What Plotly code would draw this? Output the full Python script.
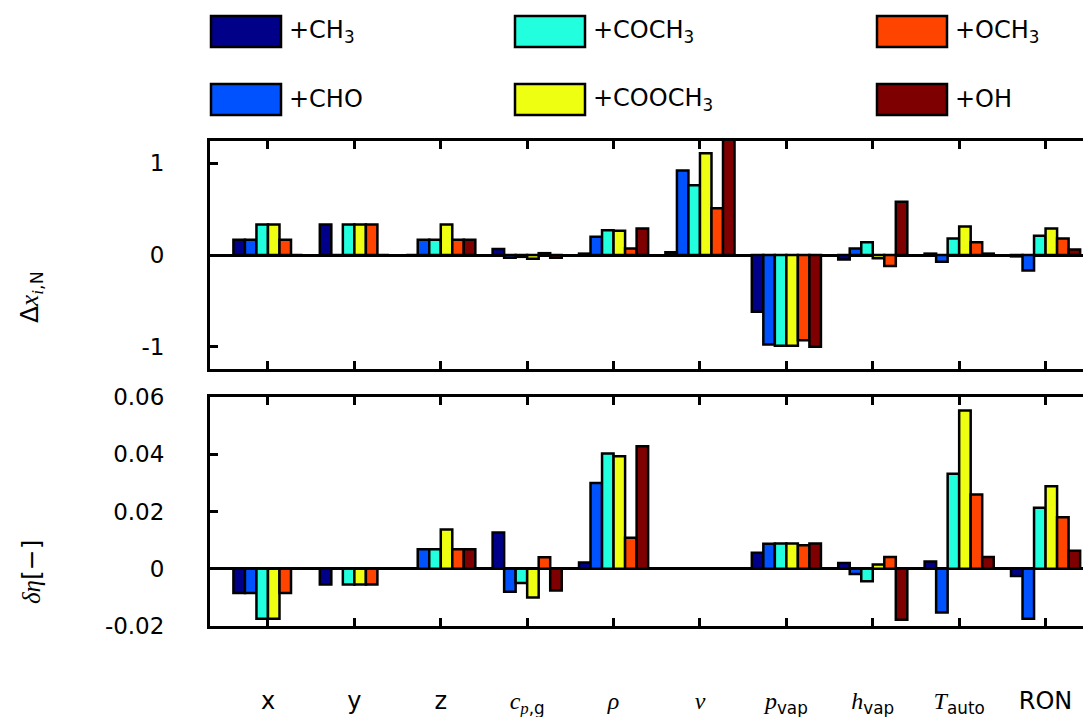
import plotly.graph_objects as go

W, H = 1091, 717
OFF = 8  # page body margin offset compensation

categories = ["x", "y", "z", "cpg", "rho", "nu", "pvap", "hvap", "Tauto", "RON"]
SERIF = "font-family:'Liberation Serif'"
tick_labels = [
    "x", "y", "z",
    f"<span style=\"{SERIF}\"><i>c</i></span><sub><span style=\"{SERIF}\"><i>p</i></span>,g</sub>",
    f"<span style=\"{SERIF}\"><i>ρ</i></span>",
    f"<span style=\"{SERIF}\"><i>ν</i></span>",
    f"<span style=\"{SERIF}\"><i>p</i></span><sub>vap</sub>",
    f"<span style=\"{SERIF}\"><i>h</i></span><sub>vap</sub>",
    f"<span style=\"{SERIF}\"><i>T</i></span><sub>auto</sub>",
    "RON",
]

series_names = ["+CH<sub>3</sub>", "+CHO", "+COCH<sub>3</sub>", "+COOCH<sub>3</sub>", "+OCH<sub>3</sub>", "+OH"]
series_colors = ["#000088", "#0052FF", "#22FFDF", "#EEFF11", "#FF4400", "#7F0000"]

# Top panel: Delta x_{i,N}
dx_CH3 = [0.167, 0.333, 0.0, 0.065, 0.015, 0.03, -0.62, -0.05, 0.015, -0.015]
dx_CHO = [0.167, 0.0, 0.167, -0.03, 0.20, 0.92, -0.975, 0.07, -0.073, -0.17]
dx_COCH3 = [0.333, 0.333, 0.167, -0.02, 0.27, 0.76, -0.99, 0.14, 0.18, 0.21]
dx_COOCH3 = [0.333, 0.333, 0.333, -0.04, 0.265, 1.11, -0.99, -0.035, 0.31, 0.29]
dx_OCH3 = [0.167, 0.333, 0.167, 0.02, 0.07, 0.51, -0.93, -0.12, 0.14, 0.18]
dx_OH = [0.0, 0.0, 0.167, -0.03, 0.29, 1.35, -1.0, 0.58, 0.015, 0.06]

# Bottom panel: delta eta
de_CH3 = [-0.0085, -0.0055, 0.0, 0.0127, 0.0022, 0.0, 0.0056, 0.0020, 0.0025, -0.0025]
de_CHO = [-0.0085, 0.0, 0.0068, -0.0080, 0.0300, 0.0, 0.0087, -0.0018, -0.0153, -0.0175]
de_COCH3 = [-0.0175, -0.0055, 0.0068, -0.0050, 0.0403, 0.0, 0.0088, -0.0044, 0.0332, 0.0213]
de_COOCH3 = [-0.0175, -0.0055, 0.0137, -0.0100, 0.0393, 0.0, 0.0088, 0.0015, 0.0553, 0.0288]
de_OCH3 = [-0.0085, -0.0055, 0.0068, 0.0040, 0.0108, 0.0, 0.0082, 0.0041, 0.0259, 0.0180]
de_OH = [0.0, 0.0, 0.0068, -0.0076, 0.0428, 0.0, 0.0088, -0.0178, 0.0041, 0.0063]

top_series = [dx_CH3, dx_CHO, dx_COCH3, dx_COOCH3, dx_OCH3, dx_OH]
bottom_series = [de_CH3, de_CHO, de_COCH3, de_COOCH3, de_OCH3, de_OH]

top_ticks = [-1, 0, 1]
top_ticktext = ["-1", "0", "1"]
bottom_ticks = [-0.02, 0, 0.02, 0.04, 0.06]
bottom_ticktext = ["-0.02", "0", "0.02", "0.04", "0.06"]

fig = go.Figure()
for name, color, ys in zip(series_names, series_colors, top_series):
    fig.add_trace(go.Bar(x=categories, y=ys, name=name, marker=dict(color=color, line=dict(color="black", width=2.5)),
                         xaxis="x", yaxis="y", showlegend=False))
for name, color, ys in zip(series_names, series_colors, bottom_series):
    fig.add_trace(go.Bar(x=categories, y=ys, name=name, marker=dict(color=color, line=dict(color="black", width=2.5)),
                         xaxis="x2", yaxis="y2", showlegend=False))

def py(p):
    return 1 - (p - OFF) / H

def px(p):
    return (p - OFF) / W

xdom = [px(210), 1.0]
xrange = [-0.671, -0.671 + (W + OFF - 210) / 86.4]
common_x = dict(type="category", categoryarray=categories, range=xrange, domain=xdom,
                showline=True, linewidth=3, linecolor="black", mirror="ticks", automargin=False,
                ticks="inside", ticklen=8, tickwidth=2.5, tickcolor="black", showgrid=False)
common_y = dict(showline=True, linewidth=3, linecolor="black", mirror=False, automargin=False,
                ticks="inside", ticklen=8, tickwidth=2.5, tickcolor="black", showgrid=False,
                zeroline=True, zerolinecolor="black", zerolinewidth=2.5, ticklabelstandoff=38,
                tickfont=dict(size=23))

fig.update_layout(
    width=W, height=H,
    margin=dict(l=0, r=0, t=0, b=0, autoexpand=False),
    plot_bgcolor="white", paper_bgcolor="white",
    font=dict(family="DejaVu Sans", size=23, color="black"),
    barmode="group", bargap=0.2, bargroupgap=0.0,
    showlegend=False,
    xaxis=dict(anchor="y", showticklabels=False, **common_x),
    xaxis2=dict(anchor="y2", showticklabels=True, tickvals=categories, ticktext=tick_labels,
                ticklabelstandoff=51, tickfont=dict(size=24), **common_x),
    yaxis=dict(anchor="x", domain=[py(369), py(141)], range=[-1.243, 1.243],
               tickvals=top_ticks, ticktext=top_ticktext, **common_y),
    yaxis2=dict(anchor="x2", domain=[py(626), py(397)], range=[-0.02, 0.06],
                tickvals=bottom_ticks, ticktext=bottom_ticktext, **common_y),
)

# y-axis titles
fig.add_annotation(x=px(31), y=py(297), xref="paper", yref="paper", textangle=-90, showarrow=False,
                   xanchor="center", yanchor="middle",
                   text=f"Δ<span style=\"{SERIF}\"><i>x</i></span><sub><span style=\"{SERIF}\"><i>i</i></span>,N</sub>",
                   font=dict(size=25))
fig.add_annotation(x=px(31), y=py(571), xref="paper", yref="paper", textangle=-90, showarrow=False,
                   xanchor="center", yanchor="middle",
                   text=f"<span style=\"{SERIF}\"><i>δη</i></span>[−]", font=dict(size=25))

# Legend (2 rows x 3 columns, column-wise order)
legend_cols = [211, 515, 877]
legend_rows = [(16, 47), (84, 115)]
for i, (name, color) in enumerate(zip(series_names, series_colors)):
    c, r = i // 2, i % 2
    x0 = legend_cols[c]
    y0, y1 = legend_rows[r]
    fig.add_shape(type="rect", xref="paper", yref="paper", x0=px(x0), x1=px(x0 + 70), y0=py(y1), y1=py(y0),
                  fillcolor=color, line=dict(color="black", width=2.5))
    fig.add_annotation(x=px(x0 + 76), y=py((y0 + y1) / 2), xref="paper", yref="paper", xanchor="left",
                       yanchor="middle", showarrow=False, text=name, font=dict(size=24))

fig.write_html("out.html")
